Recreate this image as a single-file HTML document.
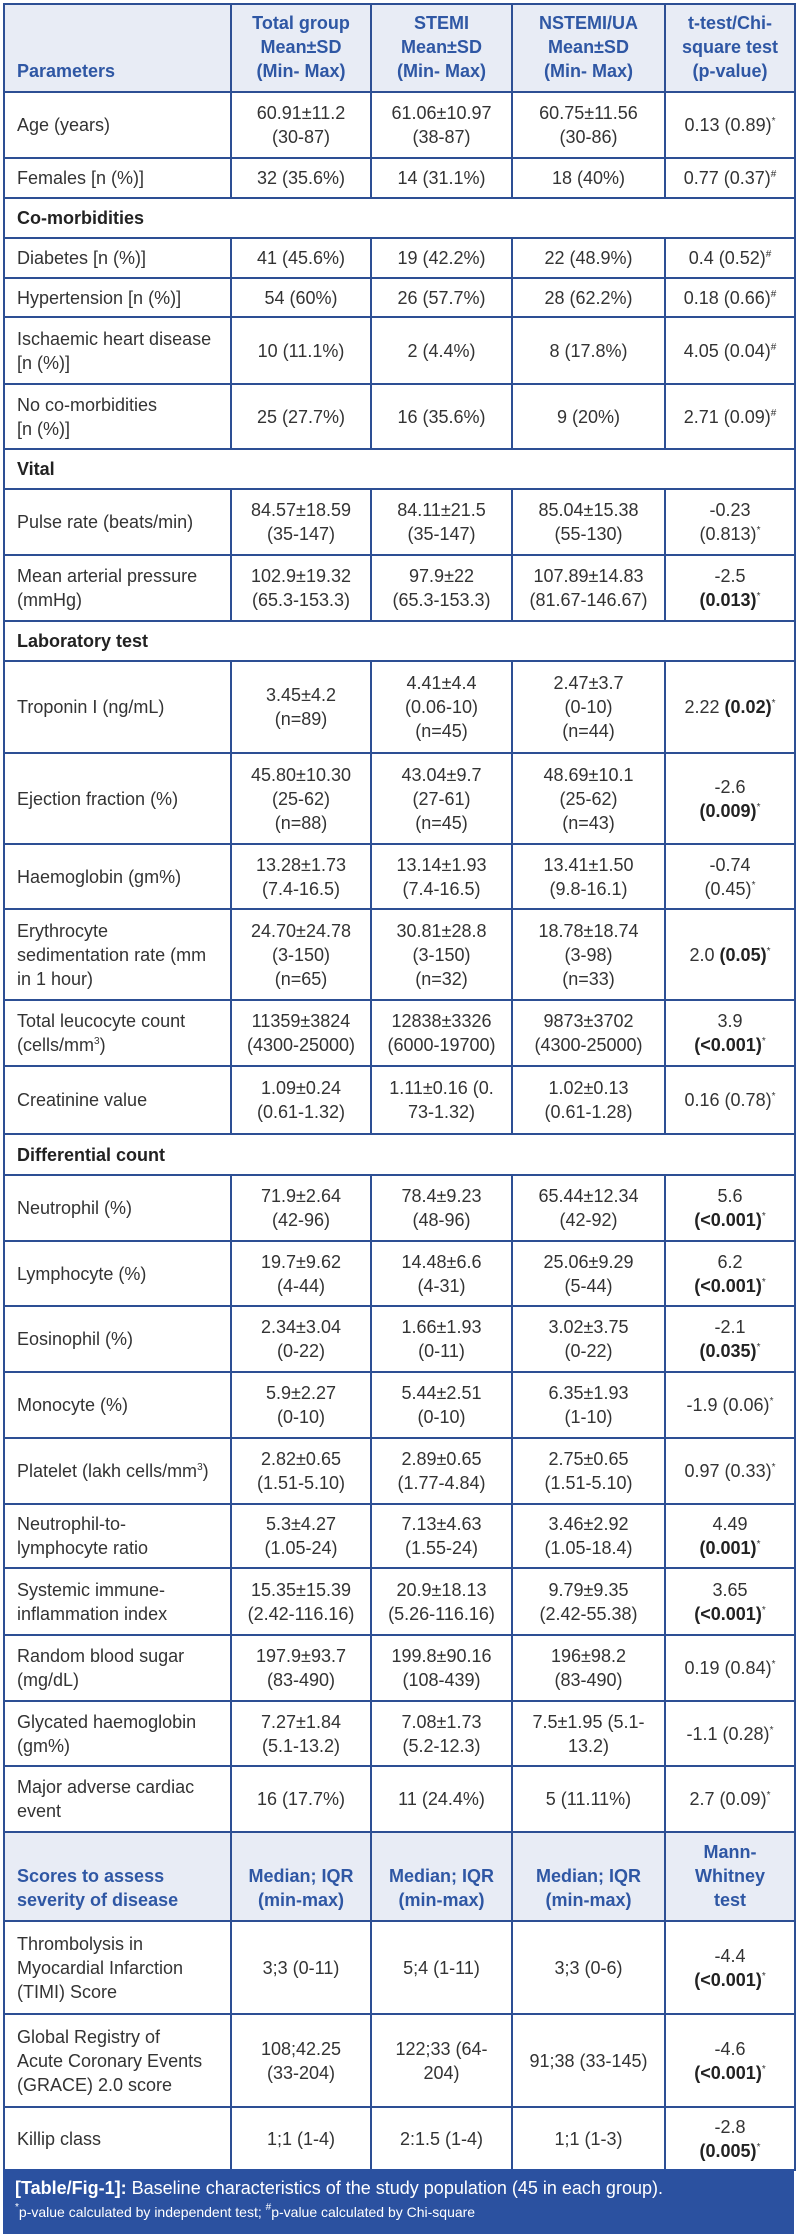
<!DOCTYPE html>
<html><head><meta charset="utf-8">
<style>
html,body{margin:0;padding:0;background:#fff;}
body{width:797px;height:2238px;position:relative;overflow:hidden;font-family:"Liberation Sans",Arial,sans-serif;}
table{position:absolute;left:3px;top:3px;width:791px;border-collapse:collapse;table-layout:fixed;}
td{border:2px solid #2d4f94;font-size:18px;line-height:24px;color:#333;text-align:center;vertical-align:middle;padding:0 4px;overflow:hidden;}
td.l{text-align:left;padding-left:12px;}
tr.h td{background:#e8ecf5;color:#2f57a4;font-weight:bold;vertical-align:bottom;padding-bottom:8px;}
tr.s td{font-weight:bold;color:#222;text-align:left;padding-left:12px;}
sup{font-size:10px;line-height:0;vertical-align:7px;}
b{color:#222;}
.cap{position:absolute;left:3px;top:2169px;width:791px;height:65px;background:#2b51a0;color:#fff;box-sizing:border-box;padding:6px 0 0 12px;}
.cap .a{font-size:18px;line-height:26px;}
.cap .b{font-size:14px;line-height:22px;}
</style></head><body>
<table>
<colgroup><col style="width:227px"><col style="width:140px"><col style="width:141px"><col style="width:153px"><col style="width:130px"></colgroup>
<tr class="h" style="height:88px"><td class="l">Parameters</td><td>Total group<br>Mean±SD<br>(Min- Max)</td><td>STEMI<br>Mean±SD<br>(Min- Max)</td><td>NSTEMI/UA<br>Mean±SD<br>(Min- Max)</td><td>t-test/Chi-<br>square test<br>(p-value)</td></tr>
<tr style="height:66px"><td class="l">Age (years)</td><td>60.91±11.2<br>(30-87)</td><td>61.06±10.97<br>(38-87)</td><td>60.75±11.56<br>(30-86)</td><td>0.13 (0.89)<sup>*</sup></td></tr>
<tr style="height:40px"><td class="l">Females [n (%)]</td><td>32 (35.6%)</td><td>14 (31.1%)</td><td>18 (40%)</td><td>0.77 (0.37)<sup>#</sup></td></tr>
<tr class="s" style="height:40px"><td colspan="5">Co-morbidities</td></tr>
<tr style="height:40px"><td class="l">Diabetes [n (%)]</td><td>41 (45.6%)</td><td>19 (42.2%)</td><td>22 (48.9%)</td><td>0.4 (0.52)<sup>#</sup></td></tr>
<tr style="height:39px"><td class="l">Hypertension [n (%)]</td><td>54 (60%)</td><td>26 (57.7%)</td><td>28 (62.2%)</td><td>0.18 (0.66)<sup>#</sup></td></tr>
<tr style="height:67px"><td class="l">Ischaemic heart disease<br>[n (%)]</td><td>10 (11.1%)</td><td>2 (4.4%)</td><td>8 (17.8%)</td><td>4.05 (0.04)<sup>#</sup></td></tr>
<tr style="height:65px"><td class="l">No co-morbidities<br>[n (%)]</td><td>25 (27.7%)</td><td>16 (35.6%)</td><td>9 (20%)</td><td>2.71 (0.09)<sup>#</sup></td></tr>
<tr class="s" style="height:40px"><td colspan="5">Vital</td></tr>
<tr style="height:66px"><td class="l">Pulse rate (beats/min)</td><td>84.57±18.59<br>(35-147)</td><td>84.11±21.5<br>(35-147)</td><td>85.04±15.38<br>(55-130)</td><td>-0.23<br>(0.813)<sup>*</sup></td></tr>
<tr style="height:66px"><td class="l">Mean arterial pressure<br>(mmHg)</td><td>102.9±19.32<br>(65.3-153.3)</td><td>97.9±22<br>(65.3-153.3)</td><td>107.89±14.83<br>(81.67-146.67)</td><td>-2.5<br><b>(0.013)</b><sup>*</sup></td></tr>
<tr class="s" style="height:40px"><td colspan="5">Laboratory test</td></tr>
<tr style="height:92px"><td class="l">Troponin I (ng/mL)</td><td>3.45±4.2<br>(n=89)</td><td>4.41±4.4<br>(0.06-10)<br>(n=45)</td><td>2.47±3.7<br>(0-10)<br>(n=44)</td><td>2.22 <b>(0.02)</b><sup>*</sup></td></tr>
<tr style="height:91px"><td class="l">Ejection fraction (%)</td><td>45.80±10.30<br>(25-62)<br>(n=88)</td><td>43.04±9.7<br>(27-61)<br>(n=45)</td><td>48.69±10.1<br>(25-62)<br>(n=43)</td><td>-2.6<br><b>(0.009)</b><sup>*</sup></td></tr>
<tr style="height:65px"><td class="l">Haemoglobin (gm%)</td><td>13.28±1.73<br>(7.4-16.5)</td><td>13.14±1.93<br>(7.4-16.5)</td><td>13.41±1.50<br>(9.8-16.1)</td><td>-0.74<br>(0.45)<sup>*</sup></td></tr>
<tr style="height:91px"><td class="l">Erythrocyte<br>sedimentation rate (mm<br>in 1 hour)</td><td>24.70±24.78<br>(3-150)<br>(n=65)</td><td>30.81±28.8<br>(3-150)<br>(n=32)</td><td>18.78±18.74<br>(3-98)<br>(n=33)</td><td>2.0 <b>(0.05)</b><sup>*</sup></td></tr>
<tr style="height:66px"><td class="l">Total leucocyte count<br>(cells/mm<sup>3</sup>)</td><td>11359±3824<br>(4300-25000)</td><td>12838±3326<br>(6000-19700)</td><td>9873±3702<br>(4300-25000)</td><td>3.9<br><b>(&lt;0.001)</b><sup>*</sup></td></tr>
<tr style="height:68px"><td class="l">Creatinine value</td><td>1.09±0.24<br>(0.61-1.32)</td><td>1.11±0.16 (0.<br>73-1.32)</td><td>1.02±0.13<br>(0.61-1.28)</td><td>0.16 (0.78)<sup>*</sup></td></tr>
<tr class="s" style="height:41px"><td colspan="5">Differential count</td></tr>
<tr style="height:66px"><td class="l">Neutrophil (%)</td><td>71.9±2.64<br>(42-96)</td><td>78.4±9.23<br>(48-96)</td><td>65.44±12.34<br>(42-92)</td><td>5.6<br><b>(&lt;0.001)</b><sup>*</sup></td></tr>
<tr style="height:65px"><td class="l">Lymphocyte (%)</td><td>19.7±9.62<br>(4-44)</td><td>14.48±6.6<br>(4-31)</td><td>25.06±9.29<br>(5-44)</td><td>6.2<br><b>(&lt;0.001)</b><sup>*</sup></td></tr>
<tr style="height:66px"><td class="l">Eosinophil (%)</td><td>2.34±3.04<br>(0-22)</td><td>1.66±1.93<br>(0-11)</td><td>3.02±3.75<br>(0-22)</td><td>-2.1<br><b>(0.035)</b><sup>*</sup></td></tr>
<tr style="height:66px"><td class="l">Monocyte (%)</td><td>5.9±2.27<br>(0-10)</td><td>5.44±2.51<br>(0-10)</td><td>6.35±1.93<br>(1-10)</td><td>-1.9 (0.06)<sup>*</sup></td></tr>
<tr style="height:66px"><td class="l">Platelet (lakh cells/mm<sup>3</sup>)</td><td>2.82±0.65<br>(1.51-5.10)</td><td>2.89±0.65<br>(1.77-4.84)</td><td>2.75±0.65<br>(1.51-5.10)</td><td>0.97 (0.33)<sup>*</sup></td></tr>
<tr style="height:64px"><td class="l">Neutrophil-to-<br>lymphocyte ratio</td><td>5.3±4.27<br>(1.05-24)</td><td>7.13±4.63<br>(1.55-24)</td><td>3.46±2.92<br>(1.05-18.4)</td><td>4.49<br><b>(0.001)</b><sup>*</sup></td></tr>
<tr style="height:67px"><td class="l">Systemic immune-<br>inflammation index</td><td>15.35±15.39<br>(2.42-116.16)</td><td>20.9±18.13<br>(5.26-116.16)</td><td>9.79±9.35<br>(2.42-55.38)</td><td>3.65<br><b>(&lt;0.001)</b><sup>*</sup></td></tr>
<tr style="height:66px"><td class="l">Random blood sugar<br>(mg/dL)</td><td>197.9±93.7<br>(83-490)</td><td>199.8±90.16<br>(108-439)</td><td>196±98.2<br>(83-490)</td><td>0.19 (0.84)<sup>*</sup></td></tr>
<tr style="height:65px"><td class="l">Glycated haemoglobin<br>(gm%)</td><td>7.27±1.84<br>(5.1-13.2)</td><td>7.08±1.73<br>(5.2-12.3)</td><td>7.5±1.95 (5.1-<br>13.2)</td><td>-1.1 (0.28)<sup>*</sup></td></tr>
<tr style="height:66px"><td class="l">Major adverse cardiac<br>event</td><td>16 (17.7%)</td><td>11 (24.4%)</td><td>5 (11.11%)</td><td>2.7 (0.09)<sup>*</sup></td></tr>
<tr class="h" style="height:89px"><td class="l">Scores to assess<br>severity of disease</td><td>Median; IQR<br>(min-max)</td><td>Median; IQR<br>(min-max)</td><td>Median; IQR<br>(min-max)</td><td>Mann-<br>Whitney<br>test</td></tr>
<tr style="height:93px"><td class="l">Thrombolysis in<br>Myocardial Infarction<br>(TIMI) Score</td><td>3;3 (0-11)</td><td>5;4 (1-11)</td><td>3;3 (0-6)</td><td>-4.4<br><b>(&lt;0.001)</b><sup>*</sup></td></tr>
<tr style="height:93px"><td class="l">Global Registry of<br>Acute Coronary Events<br>(GRACE) 2.0 score</td><td>108;42.25<br>(33-204)</td><td>122;33 (64-<br>204)</td><td>91;38 (33-145)</td><td>-4.6<br><b>(&lt;0.001)</b><sup>*</sup></td></tr>
<tr style="height:63px"><td class="l">Killip class</td><td>1;1 (1-4)</td><td>2:1.5 (1-4)</td><td>1;1 (1-3)</td><td>-2.8<br><b>(0.005)</b><sup>*</sup></td></tr>
</table>
<div class="cap"><div class="a"><b style="color:#fff">[Table/Fig-1]:</b> Baseline characteristics of the study population (45 in each group).</div><div class="b"><sup>*</sup>p-value calculated by independent test; <sup>#</sup>p-value calculated by Chi-square</div></div>
</body></html>
